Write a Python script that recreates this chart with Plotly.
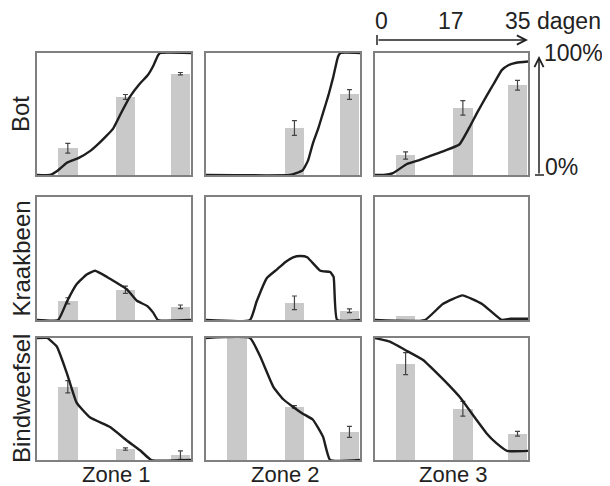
import plotly.graph_objects as go

# ---------------- data ----------------
rows = ["Bot", "Kraakbeen", "Bindweefsel"]
zones = ["Zone 1", "Zone 2", "Zone 3"]
bar_days = [7.0, 20.1, 32.6]          # measurement days of the three bars

# bar values (%) and error (%), per row -> per zone (None = no error bar)
bot_bars = [[22, 64, 83], [0, 38.5, 66], [16, 55, 73.5]]
bot_err = [[4, 2, 1], [None, 6, 4], [3, 6, 4]]
kraak_bars = [[15.6, 24.6, 10.7], [0, 14, 7.5], [3.5, 0, 1]]
kraak_err = [[2.5, 3, 1.5], [None, 5.5, 1.5], [None, None, None]]
bind_bars = [[60, 9, 4], [100, 43.5, 23], [79, 42, 21.5]]
bind_err = [[5, 1, 3.5], [None, 1, 4.5], [9, 6, 2]]

# simulated curves: days and % per row -> per zone
bot_line_x = [
    [0, 3, 4.5, 6.8, 9.5, 12.2, 13.2, 15.5, 17.3, 19, 21.1, 23.4, 25.2, 26.5, 27.5, 28, 35],
    [0, 19, 20.5, 22, 23.2, 24.3, 25.5, 26.6, 27.8, 28.9, 30, 30.6, 35],
    [0, 2, 4.1, 7.3, 10, 13, 16, 19.3, 21.6, 23.5, 25.4, 27.2, 29, 30.5, 32.3, 35],
]
bot_line_y = [
    [0, 0, 3, 10, 14, 20, 23, 31, 38, 50, 64, 75, 82, 90, 98, 100, 100],
    [0, 0, 1.5, 4, 12, 26, 38, 51, 65, 80, 97, 100, 100],
    [0, 0, 1.5, 9, 12, 16, 20, 25, 39, 52, 64, 75, 86, 90, 92, 93],
]
kraak_line_x = [
    [0, 4.8, 6.8, 9, 11.3, 13.2, 15.9, 18.2, 20.4, 22.7, 25, 26.4, 27.5, 35],
    [0, 10, 11.5, 13.8, 16.1, 18, 19.8, 21.5, 23, 26, 28.2, 29, 29.8, 35],
    [0, 11.4, 15.5, 20, 24.5, 29, 31, 35],
]
kraak_line_y = [
    [0, 0, 15, 29, 37, 40, 35, 30, 25, 15.6, 11.5, 6, 0, 0],
    [0, 0, 15, 34, 41, 47, 51, 52, 51, 40, 39, 35, 0, 0],
    [0, 0, 13, 20, 13, 0, 1, 1],
]
bind_line_x = [
    [0, 2.3, 4.5, 6.8, 9, 12, 16.6, 20.4, 23.4, 26, 35],
    [0, 10, 12.3, 15.3, 17.5, 19.8, 22, 24.3, 26.6, 28.2, 35],
    [0, 3.4, 7, 11, 14.8, 17, 19.3, 23.2, 25.5, 27.7, 30.2, 35],
]
bind_line_y = [
    [100, 100, 93, 71, 47, 35, 27, 16, 8, 0, 0],
    [100, 100, 85, 60, 50, 43.5, 38, 33, 19, 0, 0],
    [100, 97, 90, 82, 69, 61, 52, 33, 22, 14, 7.5, 7.5],
]
day_labels = ["0", "17", "35 dagen"]
pct_labels = ["100%", "0%"]

all_bars = [bot_bars, kraak_bars, bind_bars]
all_err = [bot_err, kraak_err, bind_err]
all_lx = [bot_line_x, kraak_line_x, bind_line_x]
all_ly = [bot_line_y, kraak_line_y, bind_line_y]

# ---------------- layout geometry (page pixels) ----------------
OFF = 8                     # default page body margin
W, H = 610 - OFF, 486 - OFF
col_px = [(37, 191), (206, 360), (375, 528)]
row_px = [(53, 175), (197, 320), (338, 460)]


def px(p):
    return (p - OFF) / W


def py(p):
    return 1 - (p - OFF) / H


fig = go.Figure()
layout = dict(
    width=W, height=H, margin=dict(l=0, r=0, t=0, b=0),
    paper_bgcolor="white", plot_bgcolor="white", showlegend=False,
    font=dict(family="Liberation Sans, Arial, sans-serif", color="#222222"),
)

BAR_COLOR = "#c9c9c9"
LINE_COLOR = "#1e1e1e"
BORDER = "#808080"

k = 0
for r in range(3):
    for c in range(3):
        k += 1
        xa = "x" if k == 1 else f"x{k}"
        ya = "y" if k == 1 else f"y{k}"
        xl = "xaxis" if k == 1 else f"xaxis{k}"
        yl = "yaxis" if k == 1 else f"yaxis{k}"
        x0, x1 = col_px[c]
        y0, y1 = row_px[r]
        layout[xl] = dict(domain=[px(x0), px(x1)], range=[0, 35], anchor=ya,
                          showgrid=False, zeroline=False, showticklabels=False,
                          ticks="", showline=True, mirror=True,
                          linecolor=BORDER, linewidth=1.5, fixedrange=True)
        layout[yl] = dict(domain=[py(y1), py(y0)], range=[0, 100], anchor=xa,
                          showgrid=False, zeroline=False, showticklabels=False,
                          ticks="", showline=True, mirror=True,
                          linecolor=BORDER, linewidth=1.5, fixedrange=True)
        vals = all_bars[r][c]
        errs = all_err[r][c]
        fig.add_trace(go.Bar(
            x=bar_days, y=vals, width=4.5, xaxis=xa, yaxis=ya,
            marker=dict(color=BAR_COLOR, line=dict(width=0)),
            hoverinfo="skip",
        ))
        ex = [d for d, e in zip(bar_days, errs) if e is not None]
        ey = [v for v, e in zip(vals, errs) if e is not None]
        ee = [e for e in errs if e is not None]
        if ex:
            fig.add_trace(go.Scatter(
                x=ex, y=ey, mode="markers", xaxis=xa, yaxis=ya,
                marker=dict(size=1, color="rgba(0,0,0,0)"),
                error_y=dict(type="data", array=ee, visible=True,
                             color="#444444", thickness=1.2, width=2.5),
                hoverinfo="skip",
            ))
        fig.add_trace(go.Scatter(
            x=all_lx[r][c], y=all_ly[r][c], mode="lines", xaxis=xa, yaxis=ya,
            line=dict(color=LINE_COLOR, width=2.4, shape="spline", smoothing=0.4),
            hoverinfo="skip",
        ))

fig.update_layout(**layout)

ann = []
# row labels
row_centers = [(53 + 175) / 2, (197 + 320) / 2, (338 + 460) / 2]
for name, yc in zip(rows, row_centers):
    ann.append(dict(text=name, x=px(21), y=py(yc), xref="paper", yref="paper",
                    showarrow=False, textangle=-90, font=dict(size=24),
                    xanchor="center", yanchor="middle"))
# zone labels
for name, (x0, x1) in zip(zones, col_px):
    ann.append(dict(text=name, x=px((x0 + x1) / 2 + 2), y=py(474),
                    xref="paper", yref="paper", showarrow=False,
                    font=dict(size=22), xanchor="center", yanchor="middle"))
# time axis labels
ann.append(dict(text=day_labels[0], x=px(381), y=py(21), xref="paper", yref="paper",
                showarrow=False, font=dict(size=23), xanchor="center", yanchor="middle"))
ann.append(dict(text=day_labels[1], x=px(451), y=py(21), xref="paper", yref="paper",
                showarrow=False, font=dict(size=23), xanchor="center", yanchor="middle"))
ann.append(dict(text=day_labels[2], x=px(503), y=py(21), xref="paper", yref="paper",
                showarrow=False, font=dict(size=23), xanchor="left", yanchor="middle"))
# percent labels
ann.append(dict(text=pct_labels[0], x=px(542), y=py(53), xref="paper", yref="paper",
                showarrow=False, font=dict(size=23), xanchor="left", yanchor="middle"))
ann.append(dict(text=pct_labels[1], x=px(543), y=py(167), xref="paper", yref="paper",
                showarrow=False, font=dict(size=23), xanchor="left", yanchor="middle"))
# horizontal arrow
ann.append(dict(text="", x=px(528), y=py(40), xref="paper", yref="paper",
                showarrow=True, ax=-151, ay=0, arrowhead=5, arrowsize=1.2,
                arrowwidth=1.5, arrowcolor="#222222"))
# vertical arrow
ann.append(dict(text="", x=px(539), y=py(56), xref="paper", yref="paper",
                showarrow=True, ax=0, ay=119, arrowhead=5, arrowsize=1.2,
                arrowwidth=1.5, arrowcolor="#222222"))

shapes = [
    dict(type="line", xref="paper", yref="paper", x0=px(377), x1=px(377),
         y0=py(35), y1=py(45), line=dict(color="#222222", width=1.5)),
    dict(type="line", xref="paper", yref="paper", x0=px(535), x1=px(544),
         y0=py(175), y1=py(175), line=dict(color="#222222", width=1.5)),
]
fig.update_layout(annotations=ann, shapes=shapes, bargap=0)

fig.write_html("out.html")
